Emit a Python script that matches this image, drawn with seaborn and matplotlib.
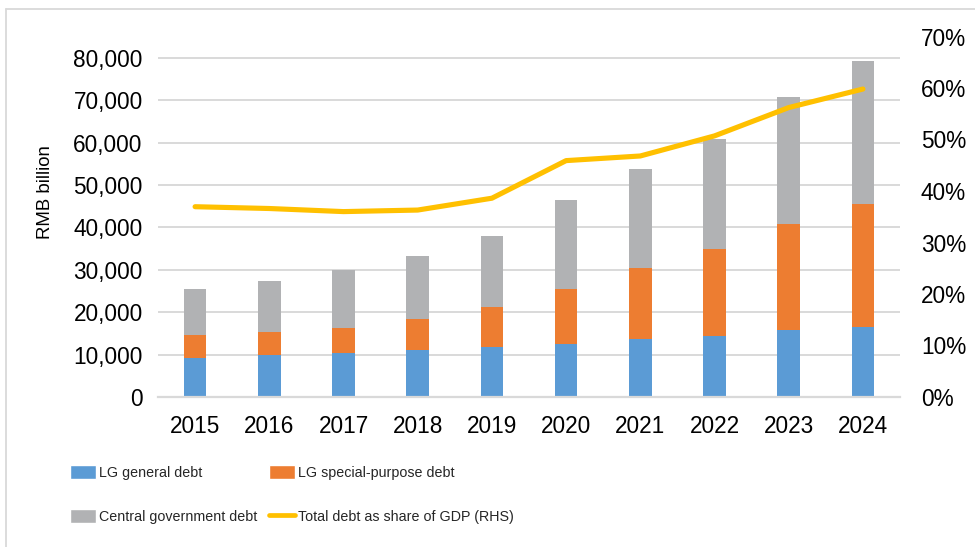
import numpy as np
import pandas as pd
import matplotlib
matplotlib.use("Agg")
import matplotlib.pyplot as plt
from matplotlib.lines import Line2D
from matplotlib.patches import Patch
import seaborn as sns

# Government debt stock, RMB billion, and total debt as % of GDP
years = ["2015", "2016", "2017", "2018", "2019", "2020", "2021", "2022", "2023", "2024"]
lg_general = [9220, 9790, 10260, 10970, 11820, 12600, 13700, 14270, 15900, 16550]
lg_special = [5370, 5510, 6040, 7470, 9460, 12930, 16700, 20730, 24800, 28850]
central = [10800, 12050, 13650, 14900, 16780, 20970, 23350, 25900, 30100, 33900]
debt_share_gdp = [36.95, 36.6, 36.0, 36.3, 38.6, 45.9, 46.8, 50.7, 56.2, 59.8]

left_ticks = [0, 10000, 20000, 30000, 40000, 50000, 60000, 70000, 80000]
right_ticks = [0, 10, 20, 30, 40, 50, 60, 70]

series_names = ["LG general debt", "LG special-purpose debt",
                "Central government debt", "Total debt as share of GDP (RHS)"]
colors = ["#5B9BD5", "#ED7D31", "#B1B2B4", "#FFC000"]

df = pd.DataFrame({"year": years, "general": lg_general,
                   "special": lg_special, "central": central,
                   "share": debt_share_gdp})
df["top_special"] = df["general"] + df["special"]
df["top_central"] = df["top_special"] + df["central"]
df["pos"] = np.arange(len(df))

sns.set_theme(style="white")
plt.rcParams["font.family"] = ["Liberation Sans", "DejaVu Sans"]

W, H = 975, 547
fig = plt.figure(figsize=(W / 100, H / 100), dpi=100)
ax = fig.add_axes([158 / W, 1 - 397 / H, (900 - 158) / W, (397 - 36.5) / H])

bw = 0.306
# stacked bars: draw cumulative totals back to front
sns.barplot(data=df, x="year", y="top_central", color=colors[2], width=bw,
            saturation=1, ax=ax, zorder=2, linewidth=0)
sns.barplot(data=df, x="year", y="top_special", color=colors[1], width=bw,
            saturation=1, ax=ax, zorder=2, linewidth=0)
sns.barplot(data=df, x="year", y="general", color=colors[0], width=bw,
            saturation=1, ax=ax, zorder=2, linewidth=0)

ax.set_xlim(-0.5, len(years) - 0.5)
ax.set_ylim(0, 85000)
ax.set_yticks(left_ticks)
ax.set_yticklabels([f"{v:,}" for v in left_ticks])
ax.yaxis.grid(True, color="#D9D9D9", linewidth=1.4, zorder=0)
ax.set_axisbelow(True)
for s in ["top", "right", "left"]:
    ax.spines[s].set_visible(False)
ax.spines["bottom"].set_color("#D9D9D9")
ax.spines["bottom"].set_linewidth(1.6)
ax.tick_params(axis="both", length=0, labelsize=16.3, colors="black")
ax.tick_params(axis="y", pad=11)
ax.tick_params(axis="x", pad=13)
ax.set_xlabel("")
ax.set_ylabel("RMB billion", fontsize=13.4, color="black")
ax.yaxis.set_label_coords((54 - 158) / (900 - 158), (397 - 192) / (397 - 36.5))

ax2 = ax.twinx()
sns.lineplot(data=df, x="pos", y="share", color=colors[3], linewidth=3.7,
             ax=ax2, zorder=5, solid_capstyle="round")
ax2.set_ylim(0, 70)
ax2.set_yticks(right_ticks)
ax2.set_yticklabels([f"{v}%" for v in right_ticks])
ax2.tick_params(axis="y", length=0, labelsize=16.3, pad=15, colors="black")
ax2.set_ylabel("")
ax2.set_xlabel("")
for s in ax2.spines.values():
    s.set_visible(False)
ax.set_xlim(-0.5, len(years) - 0.5)

handles = [Patch(facecolor=colors[0]), Patch(facecolor=colors[1]),
           Patch(facecolor=colors[2]),
           Line2D([0], [0], color=colors[3], linewidth=3.4)]
leg_kw = dict(frameon=False, loc="upper left", prop={"size": 10.3},
              handlelength=1.82, handleheight=1.15, handletextpad=0.2,
              labelspacing=2.05, borderpad=0, borderaxespad=0)
# two legend columns, each placed at its own x position
leg1 = fig.legend([handles[0], handles[2]], [series_names[0], series_names[2]],
                  bbox_to_anchor=(70 / W, 1 - 465 / H), **leg_kw)
leg2 = fig.legend([handles[1], handles[3]], [series_names[1], series_names[3]],
                  bbox_to_anchor=(269 / W, 1 - 465 / H), **leg_kw)

# outer chart frame
fig.add_artist(Line2D([6 / W, 6 / W], [0, 1 - 9 / H], color="#D9D9D9",
                      linewidth=1.3, transform=fig.transFigure))
fig.add_artist(Line2D([6 / W, 1], [1 - 9 / H, 1 - 9 / H], color="#D9D9D9",
                      linewidth=1.3, transform=fig.transFigure))

fig.savefig("out.png", dpi=100)
